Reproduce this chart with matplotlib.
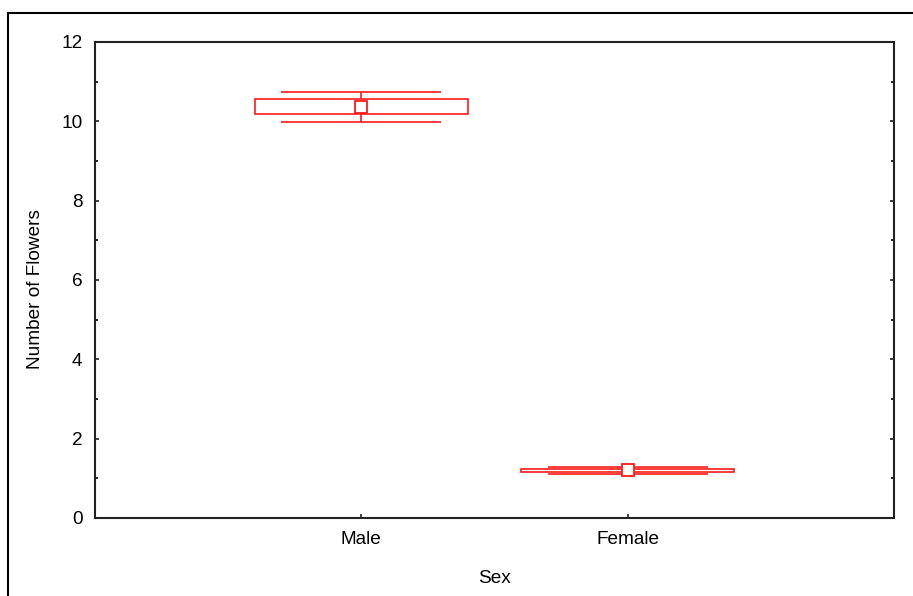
import numpy as np
import matplotlib.pyplot as plt
from matplotlib.patches import Rectangle

plt.rcParams['font.family'] = ['Liberation Sans', 'DejaVu Sans']

# datos: media, error estandar y 1.96*SE
sexo = ['Male', 'Female']
media = [10.37, 1.20]
se = [0.19, 0.03]
ic = [0.38, 0.08]

rojo = '#ff1a1a'
ancho_caja = 0.8
ancho_tope = 0.6

fig = plt.figure(figsize=(9.13, 5.96), dpi=100)
ax = fig.add_axes([95/913, 78/596, 799/913, 476/596])

pos = np.arange(1, len(sexo) + 1)
for x, m, s, c in zip(pos, media, se, ic):
    # caja +/- SE
    ax.add_patch(Rectangle((x - ancho_caja/2, m - s), ancho_caja, 2*s,
                           fill=False, edgecolor=rojo, lw=1.2, zorder=3))
    # bigotes +/- 1.96 SE
    ax.vlines(x, m + s, m + c, color=rojo, lw=1.2, zorder=3)
    ax.vlines(x, m - c, m - s, color=rojo, lw=1.2, zorder=3)
    ax.hlines([m + c, m - c], x - ancho_tope/2, x + ancho_tope/2, color=rojo, lw=1.2, zorder=3)
    ax.plot(x, m, 's', ms=8, mfc='white', mec=rojo, mew=1.3, zorder=4)

ax.set_xlim(0, 3)
ax.set_ylim(0, 12)
ax.set_xticks(pos)
ax.set_xticklabels(sexo)
ax.set_yticks(np.arange(0, 13, 2))
ax.set_yticks(np.arange(1, 12, 2), minor=True)
ax.tick_params(axis='both', which='major', direction='in', length=3, width=1.2,
               labelsize=13.7, colors='#222222', labelcolor='black', pad=9)
ax.tick_params(axis='y', which='both', right=True)
ax.tick_params(axis='y', which='minor', direction='in', length=2, width=1.2, right=True)
ax.tick_params(axis='x', which='major', bottom=True, top=False)
for sp in ax.spines.values():
    sp.set_linewidth(1.5)
    sp.set_color('#222222')

ax.set_xlabel('Sex', fontsize=13.7, labelpad=16)
ax.set_ylabel('Number of Flowers', fontsize=13.7)
ax.yaxis.set_label_coords(-0.064, 0.481)

# marco de la figura
fig.patches.append(Rectangle((8/913, -0.1), 1.2, 1 - 13/596 + 0.1, transform=fig.transFigure,
                             fill=False, edgecolor='black', lw=1.5))

fig.savefig('out.png', dpi=100)
